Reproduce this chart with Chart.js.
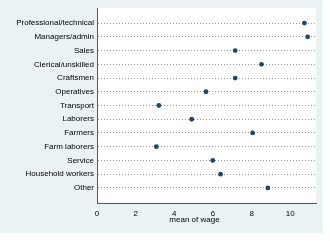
<!DOCTYPE html>
<html>
<head>
<meta charset="utf-8">
<script src="https://cdn.jsdelivr.net/npm/chart.js@4/dist/chart.umd.min.js"></script>
<style>
  html, body { margin: 0; padding: 0; background: #ffffff; }
  #wrap { width: 330px; height: 241px; }
</style>
</head>
<body>
<div id="wrap"><canvas id="dotChart" width="330" height="241"></canvas></div>
<script>
const occupations = [
    'Professional/technical', 'Managers/admin', 'Sales', 'Clerical/unskilled',
    'Craftsmen', 'Operatives', 'Transport', 'Laborers', 'Farmers',
    'Farm laborers', 'Service', 'Household workers', 'Other'
];
const meanWage = [10.73, 10.90, 7.15, 8.51, 7.15, 5.64, 3.20, 4.90, 8.05, 3.07, 5.99, 6.39, 8.84];
const xTicks = [0, 2, 4, 6, 8, 10];
const xTitle = 'mean of wage';

const FONT = 'Liberation Sans, Arial, Helvetica, sans-serif';

// stata-ish background: outer panel light blue-grey, plot region white
const backgroundPlugin = {
    id: 'bg',
    beforeDraw(chart) {
        const { ctx, chartArea } = chart;
        ctx.save();
        ctx.fillStyle = '#eaf2f3';
        ctx.fillRect(0, 0, 323, 233);
        ctx.fillStyle = '#ffffff';
        ctx.fillRect(chartArea.left, chartArea.top, chartArea.right - chartArea.left, chartArea.bottom - chartArea.top);
        ctx.restore();
    },
    afterDraw(chart) {
        const { ctx } = chart;
        ctx.save();
        ctx.font = '8px ' + FONT;
        ctx.fillStyle = '#000000';
        ctx.textAlign = 'center';
        ctx.textBaseline = 'middle';
        ctx.fillText(xTitle, 194.5, 220);
        ctx.restore();
    }
};

new Chart(document.getElementById('dotChart'), {
    type: 'scatter',
    data: {
        datasets: [{
            data: meanWage.map((v, i) => ({ x: v, y: i })),
            backgroundColor: '#1a476f',
            borderColor: '#1a476f',
            pointRadius: 2.4,
            pointHoverRadius: 2.4,
            borderWidth: 0
        }]
    },
    options: {
        responsive: false,
        animation: false,
        layout: { padding: { left: 0, right: 14, top: 8, bottom: 8 } },
        plugins: { legend: { display: false }, tooltip: { enabled: false } },
        scales: {
            x: {
                type: 'linear',
                min: 0,
                max: 11.33,
                afterBuildTicks: scale => { scale.ticks = xTicks.map(v => ({ value: v })); },
                afterFit: scale => { scale.height = 30; },
                grid: { display: false, drawTicks: true, tickLength: 4, tickColor: '#555555' },
                border: { display: true, color: '#555555', width: 1 },
                ticks: { color: '#000000', font: { family: FONT, size: 8 }, padding: 2, maxRotation: 0 }
            },
            y: {
                type: 'linear',
                reverse: true,
                min: -1.1,
                max: 13.1,
                afterBuildTicks: scale => { scale.ticks = occupations.map((_, i) => ({ value: i })); },
                afterFit: scale => { scale.width = 97; },
                grid: {
                    display: true,
                    drawTicks: false,
                    color: '#9a9a9a',
                    lineWidth: 1
                },
                border: { display: true, color: '#555555', width: 1, dash: [1, 2] },
                ticks: {
                    color: '#000000',
                    font: { family: FONT, size: 8 },
                    padding: 3,
                    callback: v => occupations[v]
                }
            }
        }
    },
    plugins: [backgroundPlugin]
});
</script>
</body>
</html>
